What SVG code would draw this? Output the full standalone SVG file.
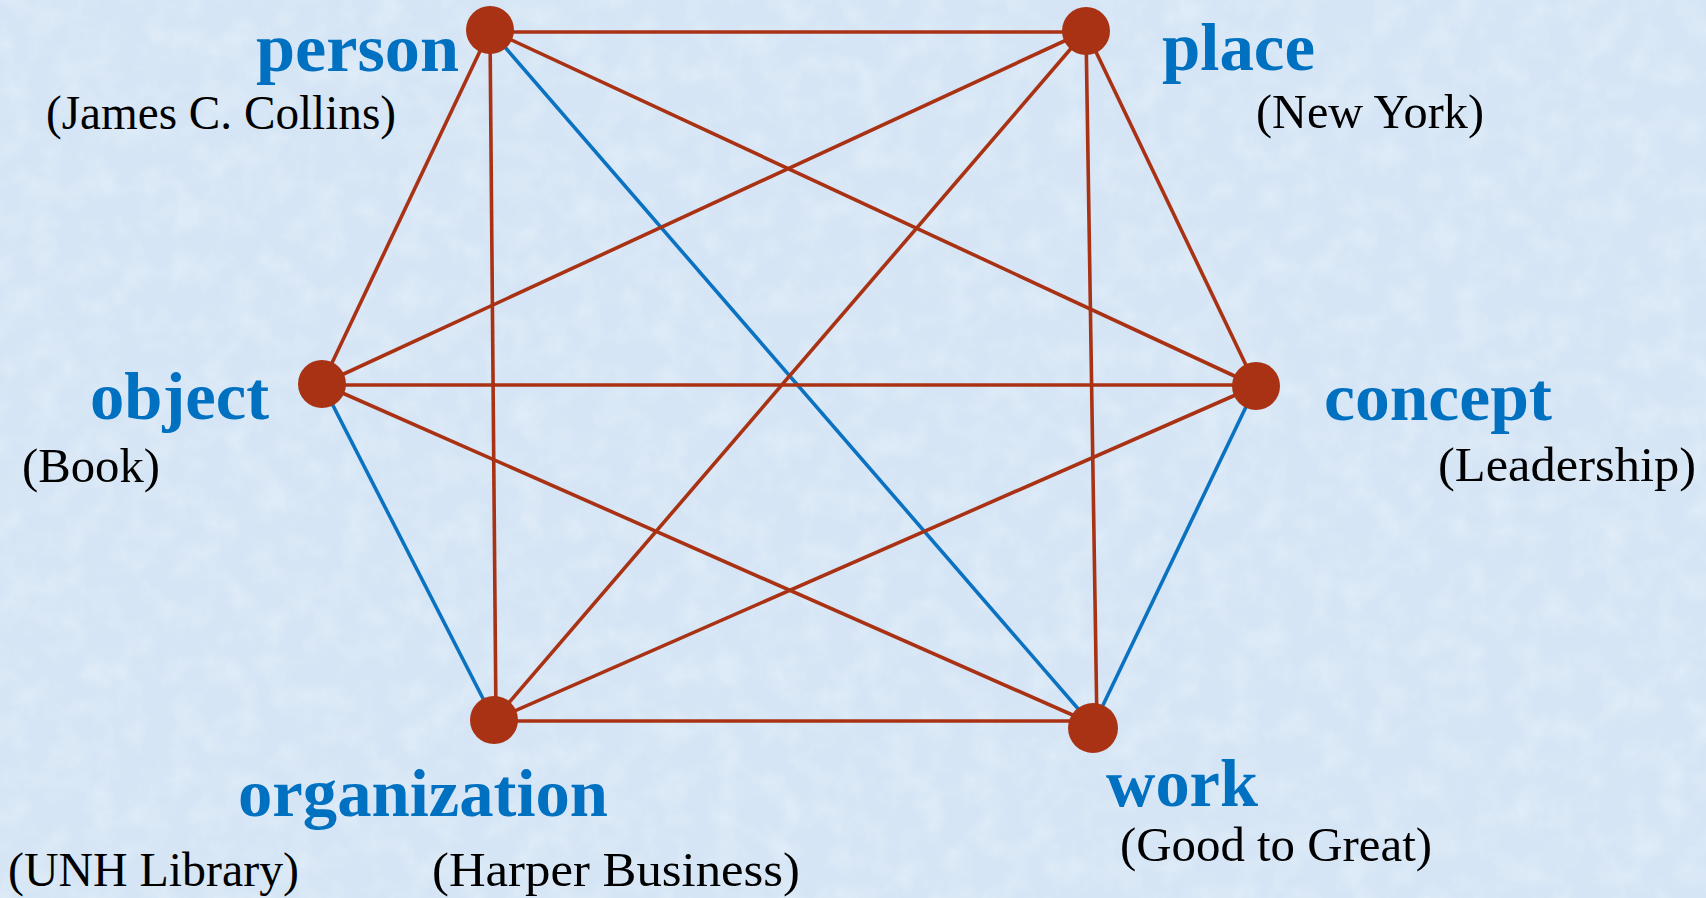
<svg xmlns="http://www.w3.org/2000/svg" width="1706" height="898" viewBox="0 0 1706 898">
<defs>
<filter id="tex" x="0" y="0" width="100%" height="100%">
<feTurbulence type="fractalNoise" baseFrequency="0.035" numOctaves="4" seed="7" result="n"/>
<feColorMatrix in="n" type="matrix" values="0 0 0 0 1  0 0 0 0 1  0 0 0 0 1  0 0 0 0.9 -0.35"/>
</filter>
<style>
.bg{fill:#d5e5f5}
.red{stroke:#a93214;stroke-width:3.6;fill:none}
.blue{stroke:#0a72c0;stroke-width:3.6;fill:none}
.dot{fill:#a93214}
.lbl{font-family:"Liberation Serif","DejaVu Serif",serif;font-weight:bold;font-size:68px;fill:#0070c0}
.sub{font-family:"Liberation Serif","DejaVu Serif",serif;font-size:48px;fill:#000}
</style>
</defs>
<rect class="bg" x="0" y="0" width="1706" height="898"/>
<rect x="0" y="0" width="1706" height="898" filter="url(#tex)" opacity="0.55"/>
<g id="connectors">
<line class="red" x1="490" y1="32" x2="1086" y2="32"/>
<line class="red" x1="490" y1="30" x2="322" y2="384"/>
<line class="red" x1="490" y1="30" x2="496" y2="720"/>
<line class="red" x1="490" y1="30" x2="1256" y2="386"/>
<line class="blue" x1="490" y1="30" x2="1093" y2="726"/>
<line class="red" x1="1086" y1="31" x2="322" y2="384"/>
<line class="red" x1="1086" y1="31" x2="494" y2="720"/>
<line class="red" x1="1086" y1="31" x2="1256" y2="386"/>
<line class="red" x1="1086" y1="31" x2="1097" y2="726"/>
<line class="red" x1="322" y1="385" x2="1256" y2="385"/>
<line class="red" x1="322" y1="384" x2="1093" y2="724"/>
<line class="blue" x1="322" y1="384" x2="494" y2="720"/>
<line class="red" x1="1256" y1="386" x2="494" y2="720"/>
<line class="blue" x1="1256" y1="386" x2="1093" y2="726"/>
<line class="red" x1="494" y1="721" x2="1090" y2="721"/>
</g>
<g id="person"><circle class="dot" cx="490" cy="30" r="24"/><text class="lbl" x="256" y="71" textLength="203" lengthAdjust="spacingAndGlyphs">person</text><text class="sub" x="46" y="129" textLength="350" lengthAdjust="spacingAndGlyphs">(James C. Collins)</text></g>
<g id="place"><circle class="dot" cx="1086" cy="31" r="24"/><text class="lbl" x="1162" y="70" textLength="153" lengthAdjust="spacingAndGlyphs">place</text><text class="sub" x="1256" y="128" textLength="228" lengthAdjust="spacingAndGlyphs">(New York)</text></g>
<g id="object"><circle class="dot" cx="322" cy="384" r="24"/><text class="lbl" x="90" y="419" textLength="179" lengthAdjust="spacingAndGlyphs">object</text><text class="sub" x="22" y="482" textLength="138" lengthAdjust="spacingAndGlyphs">(Book)</text></g>
<g id="concept"><circle class="dot" cx="1256" cy="386" r="24"/><text class="lbl" x="1324" y="420" textLength="228" lengthAdjust="spacingAndGlyphs">concept</text><text class="sub" x="1438" y="481" textLength="258" lengthAdjust="spacingAndGlyphs">(Leadership)</text></g>
<g id="organization"><circle class="dot" cx="494" cy="720" r="24"/><text class="lbl" x="238" y="816" textLength="370" lengthAdjust="spacingAndGlyphs">organization</text><text class="sub" x="8" y="886" textLength="291" lengthAdjust="spacingAndGlyphs">(UNH Library)</text><text class="sub" x="432" y="886" textLength="368" lengthAdjust="spacingAndGlyphs">(Harper Business)</text></g>
<g id="work"><circle class="dot" cx="1093" cy="728" r="25"/><text class="lbl" x="1106" y="806" textLength="152" lengthAdjust="spacingAndGlyphs">work</text><text class="sub" x="1120" y="861" textLength="312" lengthAdjust="spacingAndGlyphs">(Good to Great)</text></g>
</svg>
